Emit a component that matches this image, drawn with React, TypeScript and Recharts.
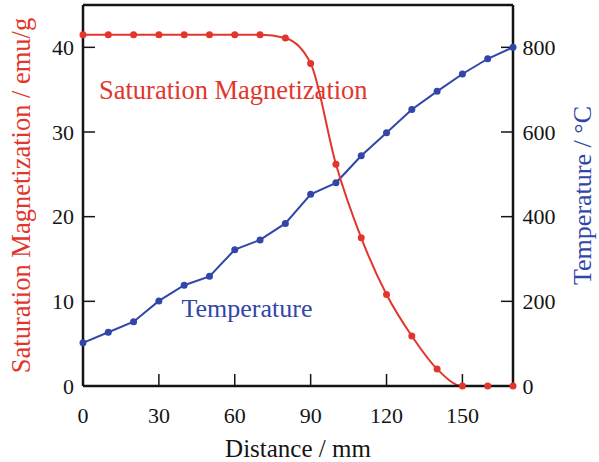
import { Line, LineChart, XAxis, YAxis } from "recharts";

const distance = [0, 10, 20, 30, 40, 50, 60, 70, 80, 90, 100, 110, 120, 130, 140, 150, 160, 170];
const magnetization = [41.5, 41.5, 41.5, 41.5, 41.5, 41.5, 41.5, 41.5, 41.1, 38.1, 26.2, 17.5, 10.8, 5.9, 2.0, 0, 0, 0];
const temperature = [102, 127, 152, 201, 238, 259, 322, 345, 384, 453, 480, 544, 598, 653, 696, 737, 773, 800];

const xTicks = [0, 30, 60, 90, 120, 150];
const magTicks = [0, 10, 20, 30, 40];
const tempTicks = [0, 200, 400, 600, 800];

const RED = "#e2362d";
const BLUE = "#3146a8";
const INK = "#141414";
const FONT = "Liberation Serif, Times New Roman, serif";

const rows = distance.map((d, i) => ({ d, mag: magnetization[i], temp: temperature[i] }));

const tickStyle = { fontSize: 22, fill: INK, fontFamily: FONT, style: { fontFamily: FONT } };
const axisLine = { stroke: INK, strokeWidth: 2.5 };
const tickLine = { stroke: INK, strokeWidth: 1.5 };

export default function App() {
  return (
    <div style={{ position: "absolute", left: 0, top: 0, background: "#fff", fontFamily: FONT }}>
      <LineChart width={599} height={462} data={rows} margin={{ top: 0, right: 0, bottom: 0, left: 0 }} style={{ fontFamily: FONT }}>
        <XAxis
          dataKey="d"
          type="number"
          domain={[0, 170]}
          ticks={xTicks}
          height={76}
          tickSize={-12}
          tickMargin={33}
          tick={tickStyle}
          axisLine={axisLine}
          tickLine={tickLine}
          label={{
            value: "Distance / mm",
            content: ({ viewBox }: any) => (
              <text x={viewBox.x + viewBox.width / 2} y={456.5} textAnchor="middle" fontSize={25} style={{ fontFamily: FONT }} fill={INK}>
                Distance / mm
              </text>
            ),
          }}
        />
        <XAxis
          xAxisId="top"
          orientation="top"
          type="number"
          domain={[0, 170]}
          ticks={xTicks}
          height={5}
          tickSize={-12}
          tick={false}
          axisLine={axisLine}
          tickLine={tickLine}
        />
        <YAxis
          yAxisId="left"
          domain={[0, 45]}
          ticks={magTicks}
          width={83}
          tickSize={-12}
          tickMargin={21}
          tick={tickStyle}
          axisLine={axisLine}
          tickLine={tickLine}
          label={{
            value: "Saturation Magnetization / emu/g",
            content: ({ viewBox }: any) => {
              const cy = viewBox.y + viewBox.height / 2;
              return (
                <text x={30} y={cy} transform={`rotate(-90, 30, ${cy})`} textAnchor="middle" fontSize={26.5} style={{ fontFamily: FONT }} fill={RED}>
                  Saturation Magnetization / emu/g
                </text>
              );
            },
          }}
        />
        <YAxis
          yAxisId="right"
          orientation="right"
          domain={[0, 900]}
          ticks={tempTicks}
          width={86}
          tickSize={-12}
          tickMargin={21.5}
          tick={tickStyle}
          axisLine={axisLine}
          tickLine={tickLine}
          label={{
            value: "Temperature / °C",
            content: ({ viewBox }: any) => {
              const cy = viewBox.y + viewBox.height / 2;
              return (
                <text x={591} y={cy} transform={`rotate(-90, 591, ${cy})`} textAnchor="middle" fontSize={26} style={{ fontFamily: FONT }} fill={BLUE}>
                  Temperature / °C
                </text>
              );
            },
          }}
        />
        <Line
          yAxisId="right"
          type="linear"
          dataKey="temp"
          stroke={BLUE}
          strokeWidth={2}
          dot={{ r: 3.5, fill: BLUE, stroke: BLUE, strokeWidth: 0 }}
          isAnimationActive={false}
        />
        <Line
          yAxisId="left"
          type="monotone"
          dataKey="mag"
          stroke={RED}
          strokeWidth={2}
          dot={{ r: 3.5, fill: RED, stroke: RED, strokeWidth: 0 }}
          isAnimationActive={false}
        />
        <text x={99} y={99} fontSize={26.5} style={{ fontFamily: FONT }} fill={RED}>
          Saturation Magnetization
        </text>
        <text x={181.5} y={316.5} fontSize={26} style={{ fontFamily: FONT }} fill={BLUE}>
          Temperature
        </text>
      </LineChart>
    </div>
  );
}
